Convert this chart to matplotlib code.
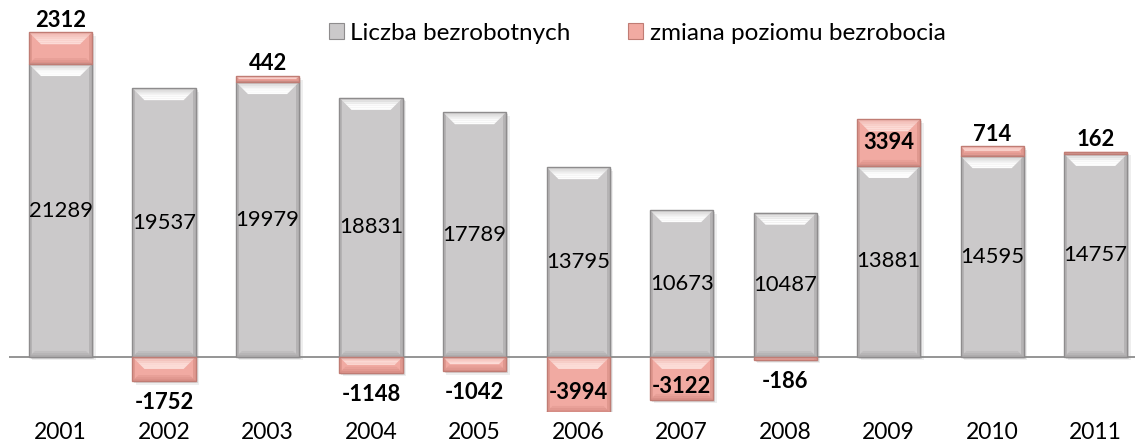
import matplotlib
matplotlib.use("Agg")
import matplotlib.pyplot as plt
from matplotlib.patches import Polygon, Rectangle, Patch
import matplotlib.colors as mcolors
import numpy as np

# ---- data ----
years = ['2001', '2002', '2003', '2004', '2005', '2006', '2007', '2008', '2009', '2010', '2011']
unemployed = [21289, 19537, 19979, 18831, 17789, 13795, 10673, 10487, 13881, 14595, 14757]
change = [2312, -1752, 442, -1148, -1042, -3994, -3122, -186, 3394, 714, 162]
series_names = ['Liczba bezrobotnych', 'zmiana poziomu bezrobocia']

plt.rcParams['font.family'] = ['Lato', 'DejaVu Sans']

GRAY = dict(body='#CBC9CA', light='#FDFDFD', toplight='#D0CFCF', dark='#A9A7A8',
            side='#B5B3B4', edge='#8E8C8D')
PINK = dict(body='#F1AAA2', light='#FCDCD7', toplight='#EEB4AD', dark='#D68C84',
            side='#E0988F', edge='#C07C74')

W, H = 1135, 441
fig = plt.figure(figsize=(W / 100, H / 100), dpi=100)
ax = fig.add_axes([8.75 / W, 29 / H, 1 - 8.75 / W, 399 / H])
x = np.arange(len(years))
bar_w = 0.61

base_pink = [u if c > 0 else 0 for u, c in zip(unemployed, change)]
bars1 = ax.bar(x, unemployed, width=bar_w, color=GRAY['body'], zorder=3, linewidth=0)
bars2 = ax.bar(x, change, width=bar_w, bottom=base_pink, color=PINK['body'], zorder=3, linewidth=0)

ax.set_xlim(-0.5, 10.38)
ax.set_ylim(-4000, 25000)

# pixel scale from the axes transform
p0 = ax.transData.transform((0, 0))
p1 = ax.transData.transform((1, 1000))
ppx = p1[0] - p0[0]
ppy = (p1[1] - p0[1]) / 1000.0


def mix(c1, c2, t):
    a = np.array(mcolors.to_rgb(c1))
    b = np.array(mcolors.to_rgb(c2))
    return tuple(a + (b - a) * t)


def bevel(rect, st):
    x0 = rect.get_x()
    w = rect.get_width()
    y0 = rect.get_y()
    h = rect.get_height()
    ylo, yhi = min(y0, y0 + h), max(y0, y0 + h)
    hpx = (yhi - ylo) * ppy
    if hpx <= 0:
        return
    x1 = x0 + w
    # shadow
    for off, al in ((2.0, 0.18), (3.5, 0.10)):
        ax.add_patch(Rectangle((x0 + off / ppx, ylo - off / ppy), w, yhi - ylo,
                               facecolor='#606060', alpha=al, linewidth=0, zorder=2))
    tpx = min(12.0, hpx / 2)
    bpx = min(6.0, hpx / 2)
    spx = 3.0
    ds = spx / ppx
    for (xa, xb) in ((x0, x0 + ds), (x1 - ds, x1)):
        ax.add_patch(Polygon([(xa, ylo), (xb, ylo), (xb, yhi), (xa, yhi)],
                             closed=True, facecolor=st['side'], linewidth=0, zorder=4))
    # top bevel with gradient bands
    n = 6
    for i in range(n):
        a0, a1 = i / n * tpx, (i + 1) / n * tpx
        c = mix(st['toplight'], st['light'], min(1.0, (i + 0.5) / n * 1.6))
        ax.add_patch(Polygon([(x0 + a0 / ppx, yhi - a0 / ppy), (x1 - a0 / ppx, yhi - a0 / ppy),
                              (x1 - a1 / ppx, yhi - a1 / ppy), (x0 + a1 / ppx, yhi - a1 / ppy)],
                             closed=True, facecolor=c, linewidth=0, zorder=5))
    # bottom bevel
    for i in range(3):
        a0, a1 = i / 3 * bpx, (i + 1) / 3 * bpx
        c = mix(st['dark'], st['body'], (i + 0.5) / 3 * 0.8)
        ax.add_patch(Polygon([(x0 + a0 / ppx, ylo + a0 / ppy), (x1 - a0 / ppx, ylo + a0 / ppy),
                              (x1 - a1 / ppx, ylo + a1 / ppy), (x0 + a1 / ppx, ylo + a1 / ppy)],
                             closed=True, facecolor=c, linewidth=0, zorder=5))
    # outline
    ax.add_patch(Rectangle((x0, ylo), w, yhi - ylo, facecolor='none',
                           edgecolor=st['edge'], linewidth=1.0, zorder=6))


for r in bars1:
    bevel(r, GRAY)
for r in bars2:
    bevel(r, PINK)

ax.axhline(0, color='#8C8C8C', linewidth=1.3, zorder=2.5)

FS = 15.8
# value labels
for r, v in zip(bars1, unemployed):
    ax.text(r.get_x() + r.get_width() / 2, v / 2, f'{v}', ha='center', va='center',
            fontsize=FS, color='black', zorder=8)

for r, v, b in zip(bars2, change, base_pink):
    cx = r.get_x() + r.get_width() / 2
    if v > 3000:
        ax.text(cx, b + v / 2, f'{v}', ha='center', va='center', fontsize=FS,
                fontweight='bold', zorder=8)
    elif v < -3000:
        ax.annotate(f'{v}', (cx, v / 2), xytext=(0, -6), textcoords='offset points',
                    ha='center', va='center', fontsize=FS, fontweight='bold', zorder=8)
    elif v > 0:
        ax.annotate(f'{v}', (cx, b + v), xytext=(0, 4), textcoords='offset points',
                    ha='center', va='baseline', fontsize=FS, fontweight='bold', zorder=8)
    else:
        ax.annotate(f'{v}', (cx, v), xytext=(0, -8), textcoords='offset points',
                    ha='center', va='top', fontsize=FS, fontweight='bold', zorder=8)

ax.set_xticks(x, years)
ax.tick_params(axis='x', length=0, pad=7, labelsize=16.5)
ax.set_yticks([])
for s in ax.spines.values():
    s.set_visible(False)

handles = [Patch(facecolor=GRAY['body'], edgecolor=GRAY['edge'], linewidth=0.8),
           Patch(facecolor=PINK['body'], edgecolor=PINK['edge'], linewidth=0.8)]
fig.legend(handles, series_names, loc='center', bbox_to_anchor=(637 / W, 1 - 33 / H),
           ncol=2, frameon=False, fontsize=17.5, handlelength=0.62, handleheight=0.62,
           handletextpad=0.25, columnspacing=2.4)

fig.savefig('out.png', dpi=100)
